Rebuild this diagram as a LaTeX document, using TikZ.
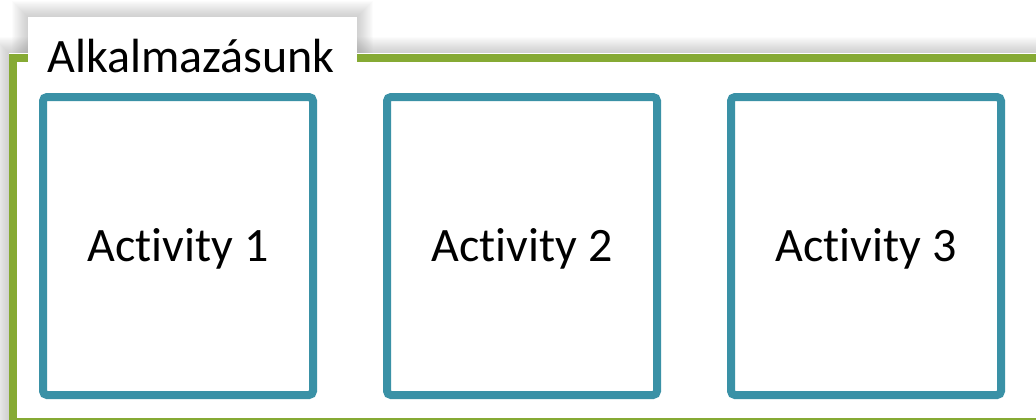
\documentclass[tikz,border=0pt]{standalone}
\usepackage{fontspec}
\setmainfont{Carlito}[Ligatures=NoCommon]
\usepackage{xcolor}
\usetikzlibrary{positioning}
\definecolor{framegreen}{RGB}{134, 170, 52}
\definecolor{boxteal}{RGB}{58, 145, 166}
\definecolor{shadowgray}{RGB}{110, 110, 110}

\tikzset{
    activitybox/.style={draw=boxteal, line width=4pt, rounded corners=2pt,
        minimum width=135pt, minimum height=149pt, inner sep=0pt,
        text height=15.5pt, text depth=0pt, font=\fontsize{24}{28}\selectfont},
    tablabel/.style={anchor=base west, inner sep=0pt, font=\fontsize{24}{28}\selectfont},
}

\begin{document}
\begin{tikzpicture}[x=0.5pt, y=-0.5pt]
    \useasboundingbox (0,0) rectangle (1036,419);
    \clip (0,0) rectangle (1036,419);
    % shadows of the frame and of the tab
    \foreach \d in {16,...,1} {
        \fill[shadowgray, opacity=0.025] (9-\d, 53-\d) rectangle (1060, 440);
        \fill[shadowgray, opacity=0.025] (28-\d, 17-\d) rectangle (357+\d, 64);
    }
    % application frame
    \fill[white] (9,53) rectangle (1060,440);
    \draw[framegreen, line width=4pt] (13,57.5) rectangle (1045,422);
    \fill[white] (28,17) rectangle (357,64);
    \node[tablabel] (app) at (47,72) {Alkalmazásunk};
    % activities
    \node[activitybox] (act1) at (178,246) {Activity 1};
    \node[activitybox, right=33pt of act1] (act2) {Activity 2};
    \node[activitybox, right=33pt of act2] (act3) {Activity 3};
\end{tikzpicture}
\end{document}
